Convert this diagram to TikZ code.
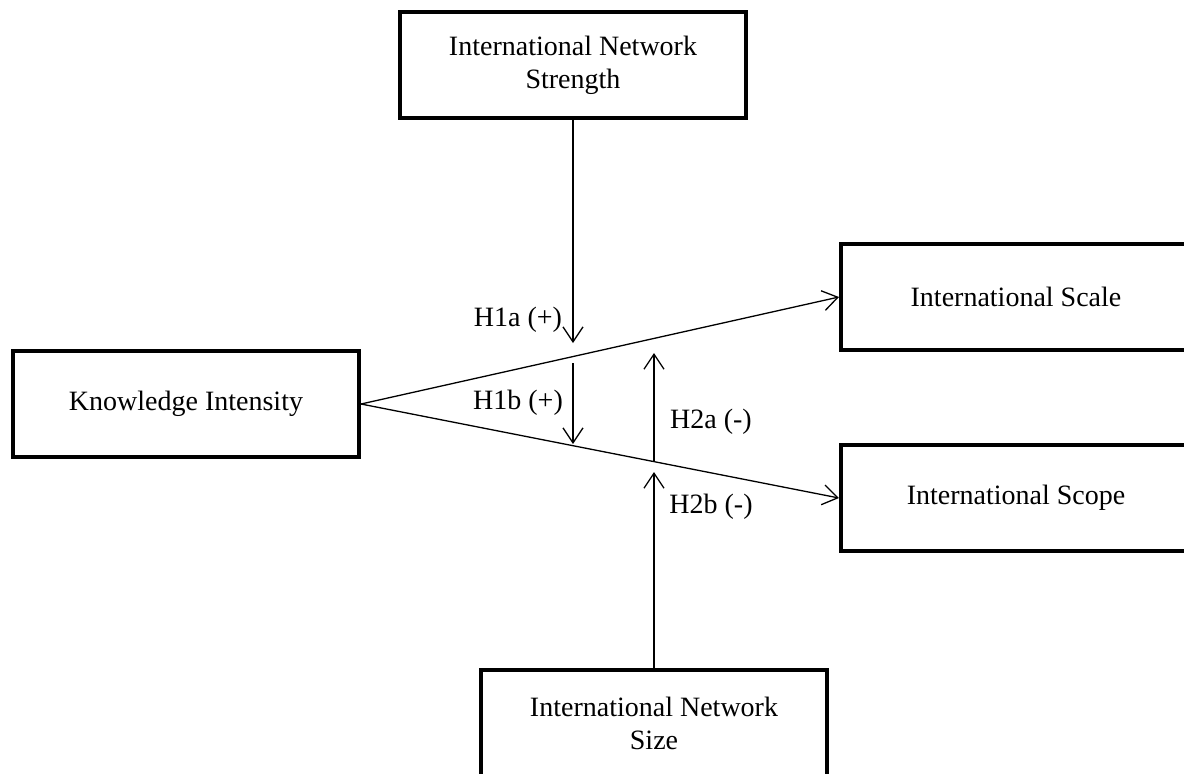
\documentclass[tikz,border=0pt]{standalone}
\usepackage{fontspec}
\setmainfont{Liberation Serif}
\usetikzlibrary{arrows.meta}

\begin{document}
\begin{tikzpicture}[x=0.5pt, y=-0.5pt,
    construct/.style={draw, rectangle, line width=2pt, minimum width=173pt, minimum height=53pt,
        inner sep=0pt, align=center, font=\fontsize{14}{16.5}\selectfont},
    hyp/.style={font=\fontsize{14}{16.5}\selectfont},
    effect/.style={line width=0.65pt, -{Straight Barb[length=7.5pt,width=10pt]}}]
    % Frame
    \useasboundingbox (0,0) rectangle (1184,773);
    \clip (0,0) rectangle (1184,773);

    % Constructs
    \node[construct] (strength) at (573,65) {International Network\\Strength};
    \node[construct] (ki) at (186,404) {Knowledge Intensity};
    \node[construct, minimum width=175pt] (scale) at (1016,297) {International Scale};
    \node[construct, minimum width=175pt] (scope) at (1016,498) {International Scope};
    \node[construct] (size) at (654,723) {International Network\\Size};

    % Main effects
    \draw[effect] (ki.east) -- (scale.west);
    \draw[effect] (ki.east) -- (scope.west);

    % Moderation points
    \coordinate (m1a) at (573,343);
    \coordinate (m1bs) at (573,363);
    \coordinate (m1b) at (573,444);
    \coordinate (m2as) at (654,461);
    \coordinate (m2a) at (654,353);
    \coordinate (m2b) at (654,472);

    % Moderators
    \draw[effect] (strength.south) -- (m1a);
    \draw[effect] (m1bs) -- (m1b);
    \draw[effect] (m2as) -- (m2a);
    \draw[effect] (size.north) -- (m2b);

    % Hypotheses
    \node[hyp] (h1a) at (518,320) {H1a (+)};
    \node[hyp] (h1b) at (518,403) {H1b (+)};
    \node[hyp] (h2a) at (711,422) {H2a (-)};
    \node[hyp] (h2b) at (711,507) {H2b (-)};
\end{tikzpicture}
\end{document}
